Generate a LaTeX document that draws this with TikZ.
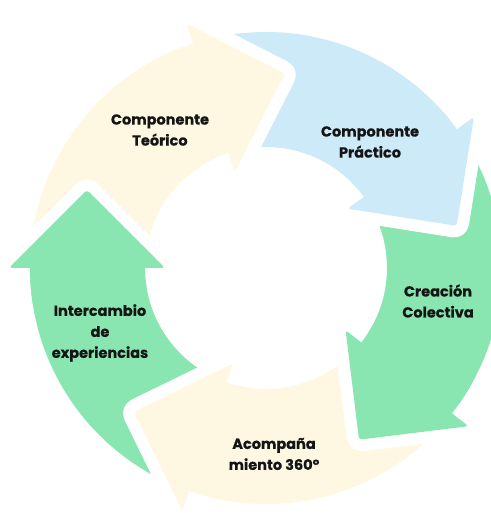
\documentclass[tikz,border=0pt]{standalone}
\usepackage{fontspec}
\setmainfont{Poppins}[BoldFeatures={FakeBold=0.5}]
\usetikzlibrary{calc}
\definecolor{cream}{HTML}{FEF8E3}
\definecolor{sky}{HTML}{CDEAF8}
\definecolor{mint}{HTML}{8AE6B0}
\definecolor{txt}{HTML}{151515}
\newcommand\bodyband[3]{%
  \fill[#1] ($(O)+(#2:236)$) arc[start angle=#2, end angle=#3, radius=236pt]
    -- ($(O)+(#3:121)$) arc[start angle=#3, end angle=#2, radius=121pt] -- cycle;}
\newcommand\headshape[2]{%
  \path[gapline] ($(O)+(#2:101)$) -- ($(O)+(#2:179)+({#2-90}:78)$) -- ($(O)+(#2:257)$) -- cycle;
  \fill[#1, rounded corners=3pt] ($(O)+(#2:101)$) -- ($(O)+(#2:179)+({#2-90}:78)$) -- ($(O)+(#2:257)$) -- cycle;
  \bodyband{#1}{#2+9}{#2-2}}
\begin{document}
\begin{tikzpicture}[x=1pt,y=1pt,
  lbl/.style={align=center, font=\bfseries\fontsize{14.5}{21}\selectfont, text=txt, inner sep=0pt},
  gapline/.style={draw=white, line width=24pt, line join=round, rounded corners=3pt}]
\useasboundingbox (0,0) rectangle (490,513);
\fill[white] (0,0) rectangle (490,513);
\coordinate (O) at (266,245);
% bodies
\bodyband{cream}{180}{108}
\bodyband{sky}{108}{36}
\bodyband{mint}{36}{-38}
\bodyband{cream}{-38}{-109}
\bodyband{mint}{-109}{-180}
% heads
\headshape{cream}{108}
\headshape{sky}{36}
\headshape{mint}{-38}
\headshape{cream}{-109}
\headshape{mint}{180}
% labels
\node[lbl] (teo) at (160,383) {Componente\\Teórico};
\node[lbl] (pra) at (370,371) {Componente\\Práctico};
\node[lbl] (cre) at (438,212) {Creación\\Colectiva};
\node[lbl] (acp) at (274,59) {Acompaña\\miento 360°};
\node[lbl] (int) at (100,180) {Intercambio\\de\\experiencias};
\end{tikzpicture}
\end{document}
